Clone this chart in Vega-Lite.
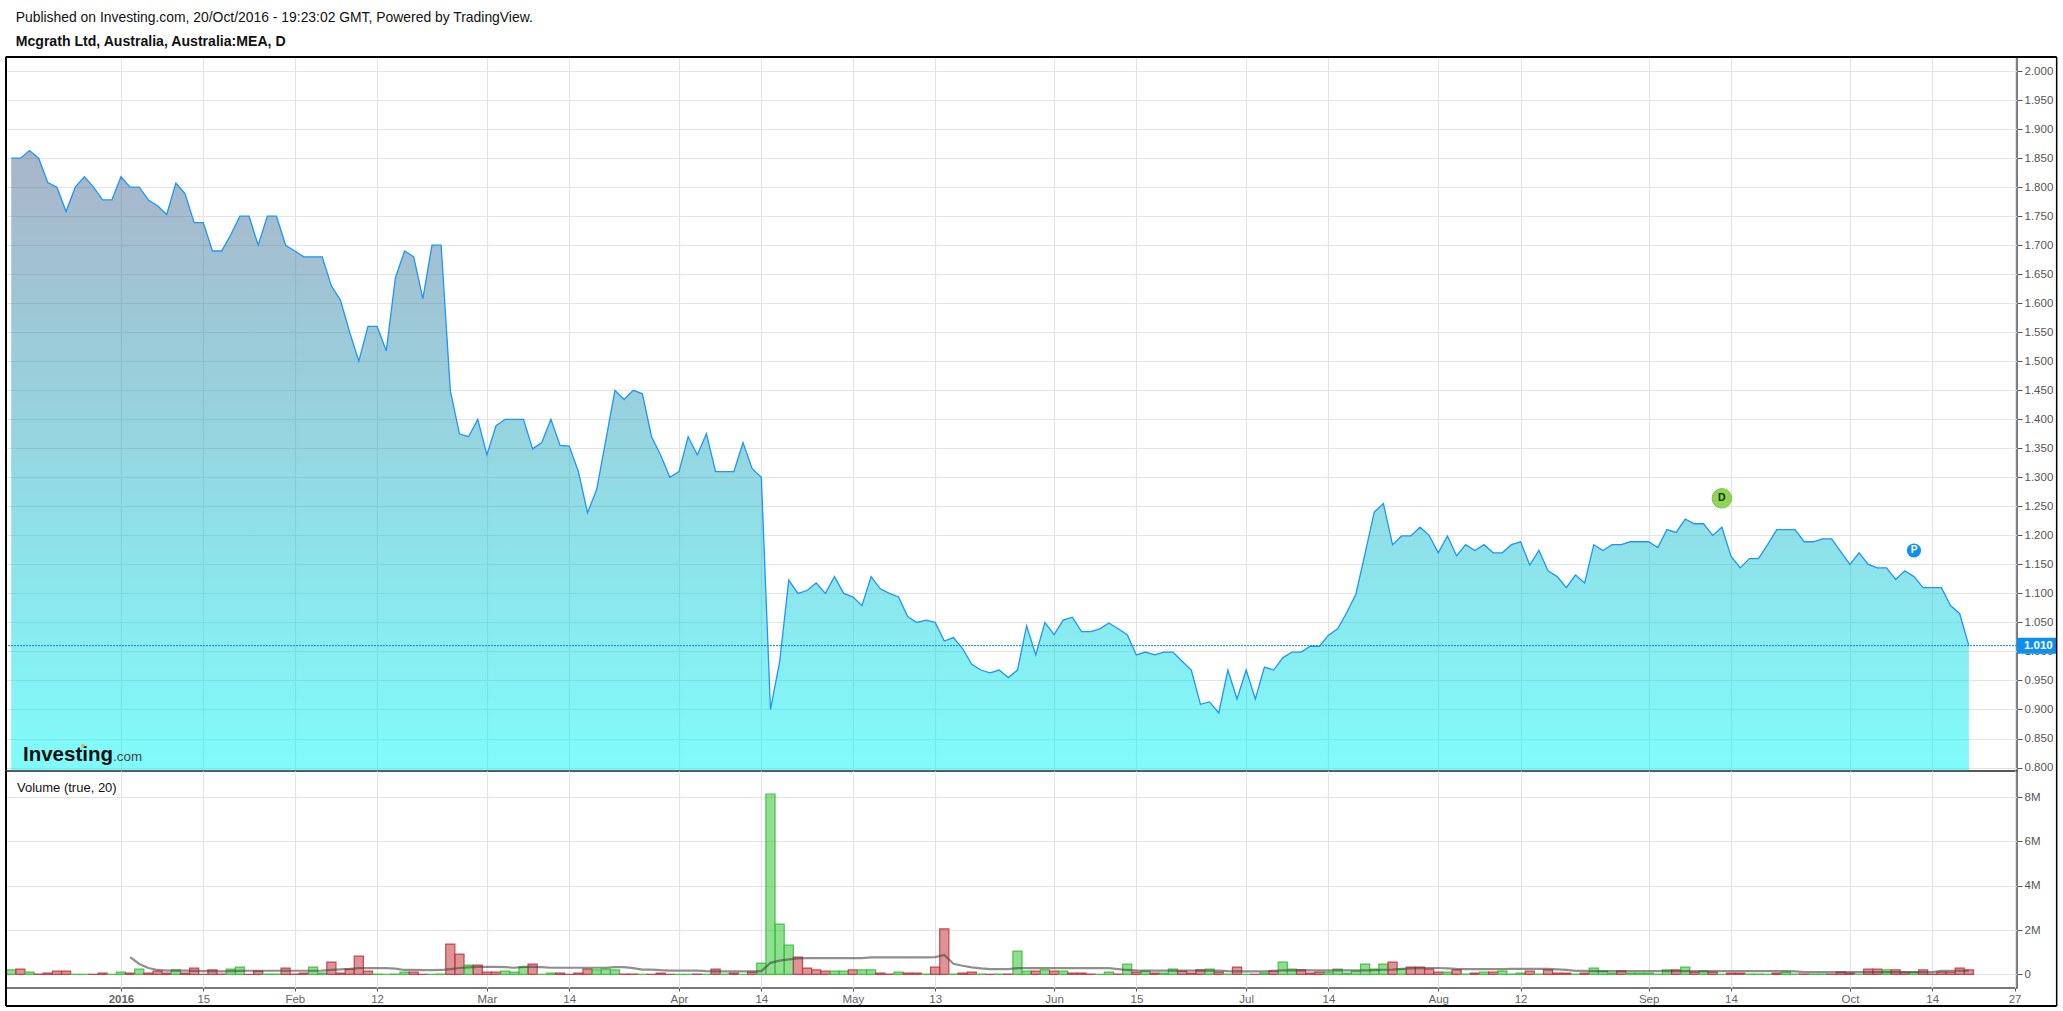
{
"$schema":"https://vega.github.io/schema/vega-lite/v6.json",
"background":"white",
"padding":{"left":4,"top":11,"right":4,"bottom":4},
"spacing":0,
"bounds":"flush",
"config":{"font":"Liberation Sans","view":{"stroke":"#4d4d4d","strokeWidth":1.5},"concat":{"spacing":0}},
"title":{"text":"Published on Investing.com, 20/Oct/2016 - 19:23:02 GMT, Powered by TradingView.","subtitle":"Mcgrath Ltd, Australia, Australia:MEA, D","anchor":"start","frame":"group","dx":9.7,"offset":6,"fontSize":13.9,"fontWeight":"normal","color":"#111","subtitleFontSize":14.1,"subtitleFontWeight":"bold","subtitleColor":"#111","subtitlePadding":10},
"datasets":{
"one":[{"row":1}],
"bars":[
{"bar":0,"close":1.85,"volume":200000,"dir":"up"},{"bar":1,"close":1.85,"volume":240000,"dir":"down"},{"bar":2,"close":1.863,"volume":105000,"dir":"up"},{"bar":3,"close":1.85,"volume":15000,"dir":"down"},{"bar":4,"close":1.808,"volume":60000,"dir":"down"},{"bar":5,"close":1.8,"volume":150000,"dir":"down"},{"bar":6,"close":1.758,"volume":150000,"dir":"down"},{"bar":7,"close":1.8,"volume":5000,"dir":"up"},{"bar":8,"close":1.818,"volume":5000,"dir":"up"},{"bar":9,"close":1.8,"volume":5000,"dir":"down"},
{"bar":10,"close":1.778,"volume":60000,"dir":"down"},{"bar":11,"close":1.778,"volume":5000,"dir":"up"},{"bar":12,"close":1.818,"volume":105000,"dir":"up"},{"bar":13,"close":1.8,"volume":60000,"dir":"down","ma":780000},{"bar":14,"close":1.8,"volume":240000,"dir":"up","ma":470000},{"bar":15,"close":1.778,"volume":60000,"dir":"down","ma":290000},{"bar":16,"close":1.768,"volume":150000,"dir":"down","ma":200000},{"bar":17,"close":1.753,"volume":60000,"dir":"down","ma":170000},{"bar":18,"close":1.807,"volume":200000,"dir":"up","ma":170000},{"bar":19,"close":1.789,"volume":60000,"dir":"down","ma":170000},
{"bar":20,"close":1.739,"volume":285000,"dir":"down","ma":160000},{"bar":21,"close":1.739,"volume":5000,"dir":"down","ma":150000},{"bar":22,"close":1.69,"volume":200000,"dir":"down","ma":150000},{"bar":23,"close":1.69,"volume":15000,"dir":"down","ma":140000},{"bar":24,"close":1.718,"volume":240000,"dir":"up","ma":150000},{"bar":25,"close":1.75,"volume":330000,"dir":"up","ma":160000},{"bar":26,"close":1.75,"volume":5000,"dir":"down","ma":165000},{"bar":27,"close":1.7,"volume":150000,"dir":"down","ma":165000},{"bar":28,"close":1.75,"volume":15000,"dir":"up","ma":165000},{"bar":29,"close":1.75,"volume":15000,"dir":"up","ma":165000},
{"bar":30,"close":1.7,"volume":285000,"dir":"down","ma":165000},{"bar":31,"close":1.69,"volume":15000,"dir":"down","ma":165000},{"bar":32,"close":1.68,"volume":60000,"dir":"down","ma":165000},{"bar":33,"close":1.68,"volume":330000,"dir":"up","ma":165000},{"bar":34,"close":1.68,"volume":60000,"dir":"up","ma":170000},{"bar":35,"close":1.63,"volume":556000,"dir":"down","ma":200000},{"bar":36,"close":1.605,"volume":60000,"dir":"down","ma":230000},{"bar":37,"close":1.55,"volume":240000,"dir":"down","ma":250000},{"bar":38,"close":1.5,"volume":827000,"dir":"down","ma":280000},{"bar":39,"close":1.56,"volume":150000,"dir":"down","ma":280000},
{"bar":40,"close":1.56,"volume":15000,"dir":"up","ma":280000},{"bar":41,"close":1.518,"volume":5000,"dir":"up","ma":280000},{"bar":42,"close":1.644,"volume":15000,"dir":"up","ma":260000},{"bar":43,"close":1.69,"volume":105000,"dir":"up","ma":200000},{"bar":44,"close":1.68,"volume":105000,"dir":"down","ma":200000},{"bar":45,"close":1.608,"volume":5000,"dir":"down","ma":190000},{"bar":46,"close":1.7,"volume":5000,"dir":"up","ma":190000},{"bar":47,"close":1.7,"volume":15000,"dir":"up","ma":200000},{"bar":48,"close":1.45,"volume":1370000,"dir":"down","ma":240000},{"bar":49,"close":1.375,"volume":917000,"dir":"down","ma":290000},
{"bar":50,"close":1.37,"volume":420000,"dir":"up","ma":320000},{"bar":51,"close":1.4,"volume":420000,"dir":"down","ma":340000},{"bar":52,"close":1.339,"volume":105000,"dir":"down","ma":340000},{"bar":53,"close":1.389,"volume":105000,"dir":"down","ma":340000},{"bar":54,"close":1.4,"volume":150000,"dir":"up","ma":330000},{"bar":55,"close":1.4,"volume":105000,"dir":"up","ma":300000},{"bar":56,"close":1.4,"volume":330000,"dir":"up","ma":340000},{"bar":57,"close":1.349,"volume":466000,"dir":"down","ma":340000},{"bar":58,"close":1.36,"volume":5000,"dir":"up","ma":330000},{"bar":59,"close":1.4,"volume":60000,"dir":"up","ma":300000},
{"bar":60,"close":1.355,"volume":60000,"dir":"down","ma":300000},{"bar":61,"close":1.354,"volume":5000,"dir":"down","ma":300000},{"bar":62,"close":1.31,"volume":60000,"dir":"down","ma":300000},{"bar":63,"close":1.239,"volume":240000,"dir":"down","ma":300000},{"bar":64,"close":1.279,"volume":200000,"dir":"up","ma":300000},{"bar":65,"close":1.364,"volume":240000,"dir":"up","ma":300000},{"bar":66,"close":1.45,"volume":200000,"dir":"up","ma":330000},{"bar":67,"close":1.434,"volume":15000,"dir":"down","ma":330000},{"bar":68,"close":1.45,"volume":15000,"dir":"down","ma":280000},{"bar":69,"close":1.444,"volume":5000,"dir":"up","ma":220000},
{"bar":70,"close":1.37,"volume":5000,"dir":"down","ma":220000},{"bar":71,"close":1.338,"volume":60000,"dir":"down","ma":190000},{"bar":72,"close":1.3,"volume":5000,"dir":"down","ma":170000},{"bar":73,"close":1.31,"volume":5000,"dir":"up","ma":170000},{"bar":74,"close":1.37,"volume":5000,"dir":"up","ma":170000},{"bar":75,"close":1.339,"volume":15000,"dir":"down","ma":170000},{"bar":76,"close":1.375,"volume":5000,"dir":"up","ma":150000},{"bar":77,"close":1.31,"volume":240000,"dir":"down","ma":140000},{"bar":78,"close":1.31,"volume":15000,"dir":"up","ma":140000},{"bar":79,"close":1.31,"volume":60000,"dir":"down","ma":140000},
{"bar":80,"close":1.36,"volume":5000,"dir":"up","ma":140000},{"bar":81,"close":1.315,"volume":105000,"dir":"down","ma":140000},{"bar":82,"close":1.3,"volume":510000,"dir":"up","ma":150000},{"bar":83,"close":0.9,"volume":8135000,"dir":"up","ma":520000},{"bar":84,"close":0.982,"volume":2270000,"dir":"up","ma":620000},{"bar":85,"close":1.123,"volume":1320000,"dir":"up","ma":680000},{"bar":86,"close":1.1,"volume":780000,"dir":"down","ma":720000},{"bar":87,"close":1.105,"volume":285000,"dir":"down","ma":730000},{"bar":88,"close":1.118,"volume":200000,"dir":"down","ma":730000},{"bar":89,"close":1.1,"volume":150000,"dir":"down","ma":730000},
{"bar":90,"close":1.129,"volume":150000,"dir":"up","ma":730000},{"bar":91,"close":1.1,"volume":150000,"dir":"up","ma":730000},{"bar":92,"close":1.094,"volume":200000,"dir":"down","ma":730000},{"bar":93,"close":1.079,"volume":200000,"dir":"up","ma":730000},{"bar":94,"close":1.129,"volume":200000,"dir":"up","ma":770000},{"bar":95,"close":1.108,"volume":60000,"dir":"down","ma":770000},{"bar":96,"close":1.1,"volume":15000,"dir":"down","ma":770000},{"bar":97,"close":1.094,"volume":105000,"dir":"up","ma":770000},{"bar":98,"close":1.06,"volume":60000,"dir":"down","ma":770000},{"bar":99,"close":1.05,"volume":60000,"dir":"down","ma":770000},
{"bar":100,"close":1.054,"volume":15000,"dir":"up","ma":770000},{"bar":101,"close":1.05,"volume":330000,"dir":"down","ma":780000},{"bar":102,"close":1.018,"volume":2050000,"dir":"down","ma":880000},{"bar":103,"close":1.024,"volume":15000,"dir":"up","ma":480000},{"bar":104,"close":1.005,"volume":60000,"dir":"down","ma":390000},{"bar":105,"close":0.978,"volume":105000,"dir":"down","ma":320000},{"bar":106,"close":0.968,"volume":15000,"dir":"up","ma":270000},{"bar":107,"close":0.963,"volume":5000,"dir":"down","ma":240000},{"bar":108,"close":0.968,"volume":15000,"dir":"up","ma":240000},{"bar":109,"close":0.955,"volume":15000,"dir":"down","ma":240000},
{"bar":110,"close":0.968,"volume":1050000,"dir":"up","ma":280000},{"bar":111,"close":1.044,"volume":150000,"dir":"up","ma":280000},{"bar":112,"close":0.994,"volume":150000,"dir":"down","ma":280000},{"bar":113,"close":1.05,"volume":200000,"dir":"up","ma":280000},{"bar":114,"close":1.029,"volume":150000,"dir":"down","ma":280000},{"bar":115,"close":1.054,"volume":150000,"dir":"up","ma":280000},{"bar":116,"close":1.059,"volume":60000,"dir":"down","ma":280000},{"bar":117,"close":1.034,"volume":60000,"dir":"down","ma":280000},{"bar":118,"close":1.034,"volume":15000,"dir":"down","ma":280000},{"bar":119,"close":1.039,"volume":5000,"dir":"up","ma":280000},
{"bar":120,"close":1.049,"volume":105000,"dir":"up","ma":280000},{"bar":121,"close":1.039,"volume":15000,"dir":"down","ma":240000},{"bar":122,"close":1.029,"volume":466000,"dir":"up","ma":200000},{"bar":123,"close":0.994,"volume":105000,"dir":"down","ma":180000},{"bar":124,"close":0.999,"volume":150000,"dir":"up","ma":170000},{"bar":125,"close":0.994,"volume":60000,"dir":"down","ma":170000},{"bar":126,"close":0.999,"volume":60000,"dir":"up","ma":170000},{"bar":127,"close":0.999,"volume":240000,"dir":"up","ma":170000},{"bar":128,"close":0.983,"volume":150000,"dir":"down","ma":170000},{"bar":129,"close":0.968,"volume":60000,"dir":"down","ma":170000},
{"bar":130,"close":0.909,"volume":200000,"dir":"down","ma":170000},{"bar":131,"close":0.913,"volume":240000,"dir":"up","ma":170000},{"bar":132,"close":0.894,"volume":105000,"dir":"down","ma":170000},{"bar":133,"close":0.968,"volume":15000,"dir":"up","ma":150000},{"bar":134,"close":0.918,"volume":330000,"dir":"down","ma":140000},{"bar":135,"close":0.968,"volume":5000,"dir":"up","ma":140000},{"bar":136,"close":0.918,"volume":5000,"dir":"down","ma":140000},{"bar":137,"close":0.973,"volume":60000,"dir":"up","ma":140000},{"bar":138,"close":0.968,"volume":150000,"dir":"down","ma":165000},{"bar":139,"close":0.989,"volume":556000,"dir":"up","ma":180000},
{"bar":140,"close":0.999,"volume":240000,"dir":"up","ma":180000},{"bar":141,"close":0.999,"volume":200000,"dir":"down","ma":180000},{"bar":142,"close":1.009,"volume":60000,"dir":"down","ma":180000},{"bar":143,"close":1.009,"volume":105000,"dir":"down","ma":180000},{"bar":144,"close":1.028,"volume":105000,"dir":"up","ma":180000},{"bar":145,"close":1.039,"volume":240000,"dir":"up","ma":180000},{"bar":146,"close":1.067,"volume":60000,"dir":"up","ma":180000},{"bar":147,"close":1.099,"volume":150000,"dir":"up","ma":180000},{"bar":148,"close":1.169,"volume":466000,"dir":"up","ma":180000},{"bar":149,"close":1.24,"volume":240000,"dir":"up","ma":190000},
{"bar":150,"close":1.255,"volume":466000,"dir":"up","ma":210000},{"bar":151,"close":1.184,"volume":556000,"dir":"down","ma":220000},{"bar":152,"close":1.199,"volume":240000,"dir":"up","ma":250000},{"bar":153,"close":1.199,"volume":330000,"dir":"down","ma":270000},{"bar":154,"close":1.214,"volume":330000,"dir":"down","ma":280000},{"bar":155,"close":1.2,"volume":240000,"dir":"down","ma":290000},{"bar":156,"close":1.17,"volume":105000,"dir":"down","ma":290000},{"bar":157,"close":1.199,"volume":105000,"dir":"up","ma":270000},{"bar":158,"close":1.165,"volume":200000,"dir":"down","ma":250000},{"bar":159,"close":1.184,"volume":15000,"dir":"up","ma":240000},
{"bar":160,"close":1.174,"volume":60000,"dir":"down","ma":240000},{"bar":161,"close":1.184,"volume":105000,"dir":"up","ma":240000},{"bar":162,"close":1.17,"volume":105000,"dir":"down","ma":240000},{"bar":163,"close":1.17,"volume":150000,"dir":"up","ma":240000},{"bar":164,"close":1.184,"volume":15000,"dir":"up","ma":250000},{"bar":165,"close":1.189,"volume":60000,"dir":"up","ma":250000},{"bar":166,"close":1.149,"volume":150000,"dir":"down","ma":250000},{"bar":167,"close":1.174,"volume":15000,"dir":"up","ma":250000},{"bar":168,"close":1.139,"volume":200000,"dir":"down","ma":250000},{"bar":169,"close":1.129,"volume":60000,"dir":"down","ma":230000},
{"bar":170,"close":1.11,"volume":60000,"dir":"down","ma":200000},{"bar":171,"close":1.132,"volume":15000,"dir":"up","ma":160000},{"bar":172,"close":1.118,"volume":60000,"dir":"down","ma":160000},{"bar":173,"close":1.184,"volume":285000,"dir":"up","ma":150000},{"bar":174,"close":1.174,"volume":150000,"dir":"up","ma":150000},{"bar":175,"close":1.184,"volume":60000,"dir":"up","ma":150000},{"bar":176,"close":1.184,"volume":150000,"dir":"down","ma":150000},{"bar":177,"close":1.189,"volume":60000,"dir":"up","ma":150000},{"bar":178,"close":1.189,"volume":60000,"dir":"up","ma":150000},{"bar":179,"close":1.189,"volume":60000,"dir":"up","ma":150000},
{"bar":180,"close":1.179,"volume":15000,"dir":"up","ma":150000},{"bar":181,"close":1.21,"volume":200000,"dir":"up","ma":150000},{"bar":182,"close":1.205,"volume":200000,"dir":"down","ma":150000},{"bar":183,"close":1.228,"volume":330000,"dir":"up","ma":150000},{"bar":184,"close":1.22,"volume":105000,"dir":"down","ma":150000},{"bar":185,"close":1.22,"volume":150000,"dir":"up","ma":150000},{"bar":186,"close":1.2,"volume":105000,"dir":"down","ma":150000},{"bar":187,"close":1.214,"volume":5000,"dir":"up","ma":150000},{"bar":188,"close":1.164,"volume":60000,"dir":"down","ma":150000},{"bar":189,"close":1.144,"volume":60000,"dir":"down","ma":150000},
{"bar":190,"close":1.16,"volume":15000,"dir":"up","ma":150000},{"bar":191,"close":1.16,"volume":15000,"dir":"up","ma":150000},{"bar":192,"close":1.184,"volume":5000,"dir":"up","ma":150000},{"bar":193,"close":1.21,"volume":60000,"dir":"down","ma":150000},{"bar":194,"close":1.21,"volume":105000,"dir":"up","ma":150000},{"bar":195,"close":1.21,"volume":15000,"dir":"up","ma":140000},{"bar":196,"close":1.189,"volume":15000,"dir":"down","ma":100000},{"bar":197,"close":1.189,"volume":15000,"dir":"up","ma":100000},{"bar":198,"close":1.194,"volume":15000,"dir":"up","ma":100000},{"bar":199,"close":1.194,"volume":15000,"dir":"down","ma":100000},
{"bar":200,"close":1.172,"volume":105000,"dir":"down","ma":100000},{"bar":201,"close":1.15,"volume":60000,"dir":"down","ma":100000},{"bar":202,"close":1.17,"volume":5000,"dir":"up","ma":100000},{"bar":203,"close":1.15,"volume":240000,"dir":"down","ma":100000},{"bar":204,"close":1.144,"volume":240000,"dir":"down","ma":100000},{"bar":205,"close":1.144,"volume":200000,"dir":"up","ma":100000},{"bar":206,"close":1.124,"volume":200000,"dir":"down","ma":100000},{"bar":207,"close":1.139,"volume":105000,"dir":"down","ma":100000},{"bar":208,"close":1.129,"volume":105000,"dir":"up","ma":100000},{"bar":209,"close":1.11,"volume":200000,"dir":"down","ma":100000},
{"bar":210,"close":1.11,"volume":15000,"dir":"down","ma":100000},{"bar":211,"close":1.11,"volume":105000,"dir":"down","ma":160000},{"bar":212,"close":1.079,"volume":105000,"dir":"down","ma":165000},{"bar":213,"close":1.065,"volume":285000,"dir":"down","ma":165000},{"bar":214,"close":1.01,"volume":200000,"dir":"down","ma":165000}
]
},
"vconcat":[
{"width":2011,"height":714,
"layer":[
{"data":{"name":"bars"},"mark":{"type":"area","color":{"gradient":"linear","x1":0,"y1":0,"x2":0,"y2":1,"stops":[{"offset":0,"color":"rgba(83,107,147,0.5)"},{"offset":1,"color":"rgba(1,247,247,0.5)"}]}},
"encoding":{"x":{"field":"bar","type":"quantitative","scale":{"domain":[-0.568,219.263],"nice":false,"zero":false},"axis":{"title":null,"values":[12,21,31,40,52,61,73,82,92,101,114,123,135,144,156,165,179,188,201,210,219],"tickCount":40,"labels":false,"ticks":false,"domain":false,"grid":true,"gridColor":"#e4e4e4","gridWidth":1.2}},
"y":{"field":"close","type":"quantitative","scale":{"domain":[0.794,2.0243],"zero":false,"nice":false},"axis":{"title":null,"orient":"right","values":[0.8,0.85,0.9,0.95,1,1.05,1.1,1.15,1.2,1.25,1.3,1.35,1.4,1.45,1.5,1.55,1.6,1.65,1.7,1.75,1.8,1.85,1.9,1.95,2],"tickCount":40,"format":".3f","labelOverlap":false,"domain":false,"tickColor":"#555","tickSize":5,"labelColor":"#555","labelFontSize":11.5,"labelPadding":2,"gridColor":"#e4e4e4","gridWidth":1.2}},
"y2":{"datum":0.794}}},
{"data":{"name":"bars"},"mark":{"type":"line","color":"#1e96f5","strokeWidth":1.3},"encoding":{"x":{"field":"bar","type":"quantitative"},"y":{"field":"close","type":"quantitative"}}},
{"data":{"name":"one"},"mark":{"type":"rule","color":"#0b86e0","strokeDash":[2,1],"strokeWidth":1},"encoding":{"y":{"datum":1.01}}},
{"data":{"values":[{"bar":187,"close":1.2638,"flag":"D"}]},"mark":{"type":"point","shape":"circle","filled":true,"size":380,"color":"#8cd650","stroke":"#7fc24a","strokeWidth":1,"opacity":1},"encoding":{"x":{"field":"bar","type":"quantitative"},"y":{"field":"close","type":"quantitative"}}},
{"data":{"values":[{"bar":187,"close":1.2638,"flag":"D"}]},"mark":{"type":"text","fontWeight":"bold","fontSize":10.5,"color":"#1a2a10"},"encoding":{"x":{"field":"bar","type":"quantitative"},"y":{"field":"close","type":"quantitative"},"text":{"field":"flag"}}},
{"data":{"values":[{"bar":208,"close":1.174,"flag":"P"}]},"mark":{"type":"point","shape":"circle","filled":true,"size":201,"color":"#0f8ff0","opacity":1},"encoding":{"x":{"field":"bar","type":"quantitative"},"y":{"field":"close","type":"quantitative"}}},
{"data":{"values":[{"bar":208,"close":1.174,"flag":"P"}]},"mark":{"type":"text","fontWeight":"bold","fontSize":10,"color":"white"},"encoding":{"x":{"field":"bar","type":"quantitative"},"y":{"field":"close","type":"quantitative"},"text":{"field":"flag"}}},
{"data":{"name":"one"},"mark":{"type":"rect","color":"#0f8ff0"},"encoding":{"x":{"datum":219.263},"x2":{"datum":223.6},"y":{"datum":1.0238},"y2":{"datum":0.9962}}},
{"data":{"name":"one"},"mark":{"type":"text","text":"1.010","color":"white","fontWeight":"bold","fontSize":11.5,"align":"left"},"encoding":{"x":{"datum":220.02},"y":{"datum":1.01}}},
{"data":{"name":"one"},"mark":{"type":"text","text":"Investing","color":"#111","fontWeight":"bold","fontSize":20.5,"align":"left","baseline":"alphabetic"},"encoding":{"x":{"datum":1.29},"y":{"datum":0.8105}}},
{"data":{"name":"one"},"mark":{"type":"text","text":".com","color":"#444","fontSize":13.4,"align":"left","baseline":"alphabetic"},"encoding":{"x":{"datum":11.13},"y":{"datum":0.8105}}},
{"data":{"name":"one"},"mark":{"type":"point","shape":"circle","filled":true,"size":12,"color":"#f5a623","opacity":1},"encoding":{"x":{"datum":7.85},"y":{"datum":0.8375}}},
{"data":{"name":"one"},"mark":{"type":"rule","color":"#000","strokeWidth":2},"encoding":{"x":{"datum":-0.568},"x2":{"datum":223.6},"y":{"datum":2.0243}}},
{"data":{"name":"one"},"mark":{"type":"rule","color":"#000","strokeWidth":2},"encoding":{"x":{"datum":-0.568},"y":{"datum":2.0243},"y2":{"datum":0.794}}},
{"data":{"name":"one"},"mark":{"type":"rule","color":"#000","strokeWidth":1.5},"encoding":{"x":{"datum":223.6},"y":{"datum":2.0243},"y2":{"datum":0.794}}}
]},
{"width":2011,"height":217,
"layer":[
{"data":{"name":"bars"},"mark":{"type":"bar","size":9.15,"fillOpacity":0.55,"strokeWidth":1.2,"strokeOpacity":0.9},
"encoding":{"x":{"field":"bar","type":"quantitative","scale":{"domain":[-0.568,219.263],"nice":false,"zero":false,"padding":0},"axis":{"title":null,"values":[12,21,31,40,52,61,73,82,92,101,114,123,135,144,156,165,179,188,201,210,219],"tickCount":40,"labelExpr":"['2016','15','Feb','12','Mar','14','Apr','14','May','13','Jun','15','Jul','14','Aug','12','Sep','14','Oct','14','27'][indexof([12,21,31,40,52,61,73,82,92,101,114,123,135,144,156,165,179,188,201,210,219],datum.value)]","labelFontWeight":{"condition":{"test":"datum.value===12","value":"bold"},"value":"normal"},"labelColor":"#666","labelFontSize":11.5,"labelPadding":2,"labelFlush":false,"labelOverlap":false,"tickColor":"#555","tickSize":3,"domain":false,"grid":true,"gridColor":"#e4e4e4","gridWidth":1.2}},
"y":{"field":"volume","type":"quantitative","stack":null,"scale":{"domain":[-613000,9172500],"nice":false},"axis":{"title":null,"orient":"right","values":[0,2000000,4000000,6000000,8000000],"labelExpr":"datum.value===0?'0':(datum.value/1000000)+'M'","labelOverlap":false,"domain":false,"tickColor":"#555","tickSize":5,"labelColor":"#555","labelFontSize":11.5,"labelPadding":2,"gridColor":"#e4e4e4","gridWidth":1.2}},
"fill":{"field":"dir","type":"nominal","legend":null,"scale":{"domain":["up","down"],"range":["#35c335","#c33b40"]}},
"stroke":{"field":"dir","type":"nominal","legend":null,"scale":{"domain":["up","down"],"range":["#38c038","#c23a3f"]}}}},
{"data":{"name":"bars"},"transform":[{"filter":"isValid(datum.ma)"}],"mark":{"type":"line","color":"#444","opacity":0.6,"strokeWidth":2.2},"encoding":{"x":{"field":"bar","type":"quantitative"},"y":{"field":"ma","type":"quantitative"}}},
{"data":{"name":"one"},"mark":{"type":"text","text":"Volume (true, 20)","color":"#111","fontSize":13,"align":"left"},"encoding":{"x":{"datum":0.63},"y":{"datum":8420000}}},
{"data":{"name":"one"},"mark":{"type":"rule","color":"#000","strokeWidth":2},"encoding":{"x":{"datum":-0.568},"y":{"datum":9172500},"y2":{"datum":-1425000}}},
{"data":{"name":"one"},"mark":{"type":"rule","color":"#000","strokeWidth":1.5},"encoding":{"x":{"datum":223.6},"y":{"datum":9172500},"y2":{"datum":-1425000}}},
{"data":{"name":"one"},"mark":{"type":"rule","color":"#000","strokeWidth":2},"encoding":{"x":{"datum":-0.568},"x2":{"datum":223.6},"y":{"datum":-1425000}}}
]}
]
}
